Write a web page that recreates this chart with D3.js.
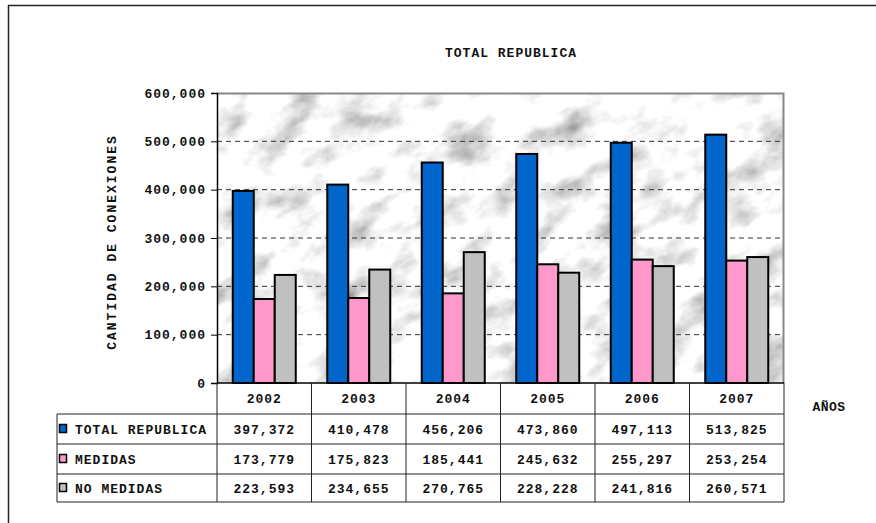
<!DOCTYPE html>
<html>
<head>
<meta charset="utf-8">
<script src="https://cdn.jsdelivr.net/npm/d3@7"></script>
<style>
  body { margin: 0; background: #fff; }
  text { font-family: "Liberation Mono", "Courier New", monospace; font-weight: bold; fill: #111; }
</style>
</head>
<body>
<svg id="chart"></svg>
<script>
// data
var years = ["2002", "2003", "2004", "2005", "2006", "2007"];
var seriesNames = ["TOTAL REPUBLICA", "MEDIDAS", "NO MEDIDAS"];
var totalRepublica = [397372, 410478, 456206, 473860, 497113, 513825];
var medidas = [173779, 175823, 185441, 245632, 255297, 253254];
var noMedidas = [223593, 234655, 270765, 228228, 241816, 260571];
var yTicks = [0, 100000, 200000, 300000, 400000, 500000, 600000];
var colors = ["#0066CC", "#FF99CC", "#C0C0C0"];

var series = [totalRepublica, medidas, noMedidas];

var W = 876, H = 523;
var margin = { top: 93, right: 92, bottom: 140, left: 217 },
    w = W - margin.left - margin.right,
    h = H - margin.top - margin.bottom;

var svg = d3.select("#chart").attr("width", W).attr("height", H);

// marble-ish background for the plot area
var defs = svg.append("defs");
var filt = defs.append("filter").attr("id", "marble")
  .attr("x", 0).attr("y", 0).attr("width", 1).attr("height", 1);
filt.append("feTurbulence")
  .attr("type", "fractalNoise")
  .attr("baseFrequency", "0.022 0.034")
  .attr("numOctaves", 5)
  .attr("seed", 11)
  .attr("result", "noise");
filt.append("feColorMatrix")
  .attr("in", "noise")
  .attr("type", "matrix")
  .attr("values", "1.5 0 0 0 0.2  1.5 0 0 0 0.2  1.5 0 0 0 0.2  0 0 0 0 1");

defs.append("clipPath").attr("id", "plotclip")
  .append("rect").attr("width", w).attr("height", h);

// outer frame
svg.append("rect")
   .attr("x", 8.5).attr("y", 5.5)
   .attr("width", 900).attr("height", 600)
   .attr("fill", "none").attr("stroke", "#222").attr("stroke-width", 1.5);

var g = svg.append("g").attr("transform", "translate(" + margin.left + "," + margin.top + ")");

g.append("g").attr("clip-path", "url(#plotclip)")
 .append("g").attr("transform", "rotate(-25 " + (w / 2) + " " + (h / 2) + ")")
 .append("rect")
 .attr("x", -200).attr("y", -250).attr("width", w + 400).attr("height", h + 500)
 .attr("filter", "url(#marble)");

var x0 = d3.scaleBand().domain(years).range([0, w]).paddingInner(1 / 3).paddingOuter(1 / 6);
var x1 = d3.scaleBand().domain(d3.range(series.length)).range([0, x0.bandwidth()]);
var y = d3.scaleLinear().domain([0, 600000]).range([h, 0]);

// gridlines
g.selectAll(".grid")
 .data(yTicks.filter(d => d > 0 && d < 600000))
 .enter().append("line")
 .attr("x1", 0).attr("x2", w)
 .attr("y1", d => y(d)).attr("y2", d => y(d))
 .attr("stroke", "#333").attr("stroke-dasharray", "5,4");

// plot border (top/right gray)
g.append("path")
 .attr("d", "M0,0.5H" + (w - 0.5) + "V" + h)
 .attr("fill", "none").attr("stroke", "#888").attr("stroke-width", 2);

// bars
var groups = g.selectAll(".year")
  .data(years)
  .enter().append("g")
  .attr("transform", d => "translate(" + x0(d) + ",0)");

groups.selectAll("rect")
  .data((d, i) => series.map((s, k) => ({ k: k, v: s[i] })))
  .enter().append("rect")
  .attr("x", d => x1(d.k))
  .attr("y", d => y(d.v))
  .attr("width", x1.bandwidth())
  .attr("height", d => h - y(d.v))
  .attr("fill", d => colors[d.k])
  .attr("stroke", "#000").attr("stroke-width", 2);

// y axis
var yAxis = d3.axisLeft(y).tickValues(yTicks).tickSize(6).tickPadding(5)
  .tickFormat(d3.format(","));
var ya = g.append("g").call(yAxis);
ya.select(".domain").attr("stroke", "#000").attr("stroke-width", 1.5);
ya.selectAll("text").attr("font-size", 13).attr("letter-spacing", 1)
  .style("font-family", "Liberation Mono").attr("fill", "#111");

// x axis line
g.append("line").attr("x1", 0).attr("x2", w).attr("y1", h).attr("y2", h)
 .attr("stroke", "#000").attr("stroke-width", 1.5);

// table
var step = x0.step();
var colX = d3.range(years.length + 1).map(i => i * step);
var rowH = [31, 30, 30, 28];
var rowY = [h, h + 31, h + 61, h + 91, h + 119];
var tableLeft = 57 - margin.left;
var tbl = g.append("g").attr("stroke", "#222").attr("stroke-width", 1);

colX.forEach(function(cx) {
  tbl.append("line").attr("x1", cx).attr("x2", cx).attr("y1", rowY[0]).attr("y2", rowY[4]);
});
tbl.append("line").attr("x1", tableLeft).attr("x2", tableLeft).attr("y1", rowY[1]).attr("y2", rowY[4]);
rowY.slice(1).forEach(function(ry) {
  tbl.append("line").attr("x1", tableLeft).attr("x2", w).attr("y1", ry).attr("y2", ry);
});

// year labels
g.selectAll(".yr").data(years).enter().append("text")
 .attr("x", d => x0(d) + x0.bandwidth() / 2)
 .attr("y", rowY[0] + rowH[0] / 2)
 .attr("dy", "0.35em")
 .attr("text-anchor", "middle")
 .attr("font-size", 13).attr("letter-spacing", 1)
 .text(d => d);

// series rows
seriesNames.forEach(function(name, k) {
  var cy = (rowY[k + 1] + rowY[k + 2]) / 2;
  g.append("rect")
   .attr("x", tableLeft + 2.5).attr("y", cy - 4.5)
   .attr("width", 7).attr("height", 8)
   .attr("fill", colors[k]).attr("stroke", "#000").attr("stroke-width", 1.5);
  g.append("text")
   .attr("x", tableLeft + 18).attr("y", cy).attr("dy", "0.35em")
   .attr("font-size", 13).attr("letter-spacing", 1)
   .text(name);
  g.selectAll(".v" + k).data(series[k]).enter().append("text")
   .attr("x", (d, i) => x0(years[i]) + x0.bandwidth() / 2)
   .attr("y", cy).attr("dy", "0.35em")
   .attr("text-anchor", "middle")
   .attr("font-size", 13).attr("letter-spacing", 1)
   .text(d => d3.format(",")(d));
});

// titles
svg.append("text")
   .attr("x", 511).attr("y", 52).attr("dy", "0.35em")
   .attr("text-anchor", "middle")
   .attr("font-size", 13).attr("letter-spacing", 1)
   .text("TOTAL REPUBLICA");

svg.append("text")
   .attr("transform", "translate(111,242) rotate(-90)")
   .attr("dy", "0.35em")
   .attr("text-anchor", "middle")
   .attr("font-size", 13).attr("letter-spacing", 2)
   .text("CANTIDAD DE CONEXIONES");

svg.append("text")
   .attr("x", 829).attr("y", 406).attr("dy", "0.35em")
   .attr("text-anchor", "middle")
   .attr("font-size", 13).attr("letter-spacing", 0.5)
   .text("AÑOS");
</script>
</body>
</html>
